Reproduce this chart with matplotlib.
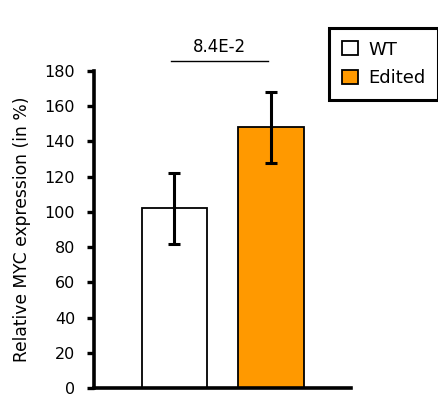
import matplotlib
matplotlib.use("Agg")
import matplotlib.pyplot as plt
from matplotlib.patches import Patch

# --- data ---
groups = ["WT", "Edited"]
means = [102, 148]
errors = [20, 20]
colors = ["white", "#FF9900"]
yticks = [0, 20, 40, 60, 80, 100, 120, 140, 160, 180]
p_label = "8.4E-2"
p_height = 185.5

plt.rcParams["font.family"] = "DejaVu Sans"

fig = plt.figure(figsize=(4.38, 3.94), dpi=100)
ax = fig.add_axes([94 / 438, 6 / 394, 257 / 438, 317 / 394])

x = list(range(len(groups)))
ax.bar(x, means, width=0.674, color=colors, edgecolor="black", linewidth=1.3, zorder=2)
ax.errorbar(x, means, yerr=errors, fmt="none", ecolor="black", elinewidth=2.2,
            capsize=4.3, capthick=2.2, zorder=3)

ax.set_xlim(-0.834, 1.829)
ax.set_ylim(0, 180)
ax.set_yticks(yticks)
ax.set_xticks([])
ax.tick_params(axis="y", length=5, width=2.4, labelsize=11.5, pad=8.5)
ax.set_ylabel("Relative MYC expression (in %)", fontsize=12.3, labelpad=10)

for side in ["top", "right"]:
    ax.spines[side].set_visible(False)
ax.spines["left"].set_linewidth(2.6)
ax.spines["bottom"].set_linewidth(2.6)

# significance bar
ax.plot([-0.036, 0.969], [p_height, p_height], color="black", lw=1, clip_on=False)
ax.text(0.466, p_height + 8, p_label, ha="center", va="center", fontsize=12)

handles = [Patch(facecolor=c, edgecolor="black", linewidth=1.3, label=g)
           for g, c in zip(groups, colors)]
leg = fig.legend(handles=handles, loc="upper left", bbox_to_anchor=(329 / 438, 1 - 28 / 394),
                 borderaxespad=0, fontsize=13, handlelength=0.89, handleheight=0.83,
                 handletextpad=0.6, borderpad=0.7, labelspacing=0.6, frameon=True,
                 fancybox=False, framealpha=1)
leg.get_frame().set_edgecolor("black")
leg.get_frame().set_linewidth(2.2)

fig.savefig("out.png", dpi=100)
